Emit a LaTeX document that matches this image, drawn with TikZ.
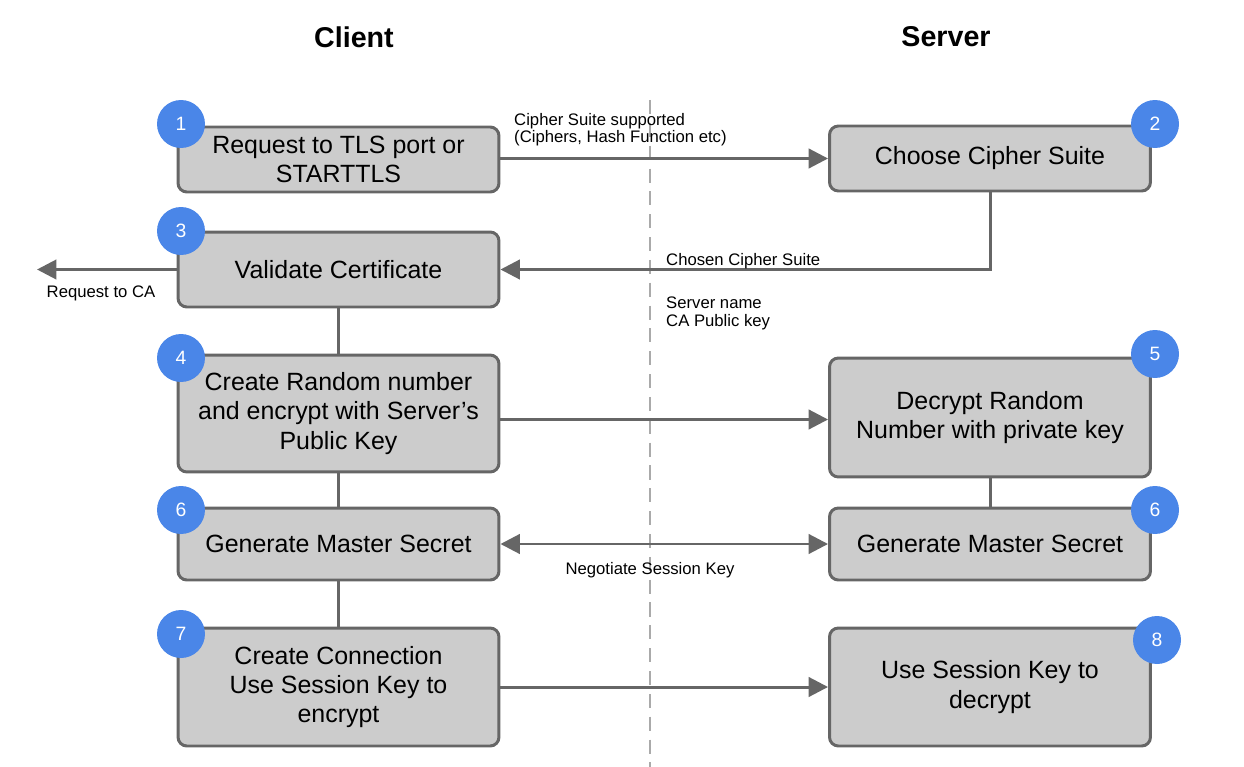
\documentclass[tikz,border=0pt]{standalone}
\usepackage{fontspec}
\setmainfont{Liberation Sans}
\usetikzlibrary{arrows.meta}
\definecolor{boxfill}{HTML}{CCCCCC}
\definecolor{boxline}{HTML}{666666}
\definecolor{stepblue}{HTML}{4A86E8}
\definecolor{midline}{HTML}{AAAAAA}

\begin{document}
\begin{tikzpicture}[
    x=0.02cm, y=-0.02cm,
    >={Triangle[length=11pt,width=11pt]},
    box/.style={draw=boxline, fill=boxfill, line width=1.7pt,
      rounded corners=5pt, minimum width=6.42cm, align=center,
      font=\fontsize{14.2}{16.6}\selectfont},
    num/.style={circle, fill=stepblue, minimum size=0.96cm, inner sep=0pt,
      text=white, font=\fontsize{11}{12}\selectfont},
    head/.style={font=\bfseries\fontsize{16.3}{19}\selectfont},
    note/.style={font=\fontsize{9.5}{9.8}\selectfont, align=left},
    ptr/.style={->, line width=1.7pt, draw=boxline},
    link/.style={line width=1.7pt, draw=boxline},
  ]
    \useasboundingbox (0,0) rectangle (1244,767);

    \node[head] at (354,37) {Client};
    \node[head] at (946,37) {Server};
    \draw[midline, line width=1pt, dash pattern=on 8pt off 5pt] (650,100) -- (650,767);

    \node[box, minimum height=1.3cm] (b1) at (338.5,159.5) {Request to TLS port or\\STARTTLS};
    \node[box, minimum height=1.3cm] (b2) at (990,158.5) {Choose Cipher Suite};
    \node[box, minimum height=1.5cm] (b3) at (338.5,269.5) {Validate Certificate};
    \node[box, minimum height=2.34cm] (b4) at (338.5,413.5) {Create Random number\\and encrypt with Server's\\Public Key};
    \node[box, minimum height=2.38cm] (b5) at (990,417.5) {Decrypt Random\\Number with private key};
    \node[box, minimum height=1.44cm] (b6l) at (338.5,544) {Generate Master Secret};
    \node[box, minimum height=1.44cm] (b6r) at (990,544) {Generate Master Secret};
    \node[box, minimum height=2.36cm] (b7) at (338.5,687) {Create Connection\\Use Session Key to\\encrypt};
    \node[box, minimum height=2.36cm] (b8) at (990,687) {Use Session Key to\\decrypt};

    \coordinate (ca) at (37,269.5);
    \coordinate (mid45) at (650,419.5);
    \draw[ptr] (b1.east |- b2) -- (b2);
    \draw[ptr] (b2.south) |- (b3.east);
    \draw[ptr] (b3.west) -- (ca);
    \draw[ptr] (b4.east |- mid45) -- (b5.west |- mid45);
    \draw[ptr, <->] (b6l) -- (b6r);
    \draw[ptr] (b7) -- (b8);
    \draw[link] (b3.south) -- (b4.north);
    \draw[link] (b4.south) -- (b6l.north);
    \draw[link] (b5.south) -- (b6r.north);
    \draw[link] (b6l.south) -- (b7.north);

    \node[note, anchor=north west] (lsuite) at (508,107) {Cipher Suite supported\\(Ciphers, Hash Function etc)};
    \node[note, anchor=west] (lchosen) at (660,261) {Chosen Cipher Suite};
    \node[note, anchor=north west] (lserver) at (660,291) {Server name\\CA Public key};
    \node[note] (lca) at (101,293) {Request to CA};
    \node[note] (lneg) at (650,570) {Negotiate Session Key};

    \node[num] (n1) at (181,124) {1};
    \node[num] (n2) at (1155,124) {2};
    \node[num] (n3) at (181,231) {3};
    \node[num] (n4) at (181,358) {4};
    \node[num] (n5) at (1155,354) {5};
    \node[num] (n6l) at (181,510) {6};
    \node[num] (n6r) at (1155,510) {6};
    \node[num] (n7) at (181,634) {7};
    \node[num] (n8) at (1157,640) {8};
\end{tikzpicture}
\end{document}
